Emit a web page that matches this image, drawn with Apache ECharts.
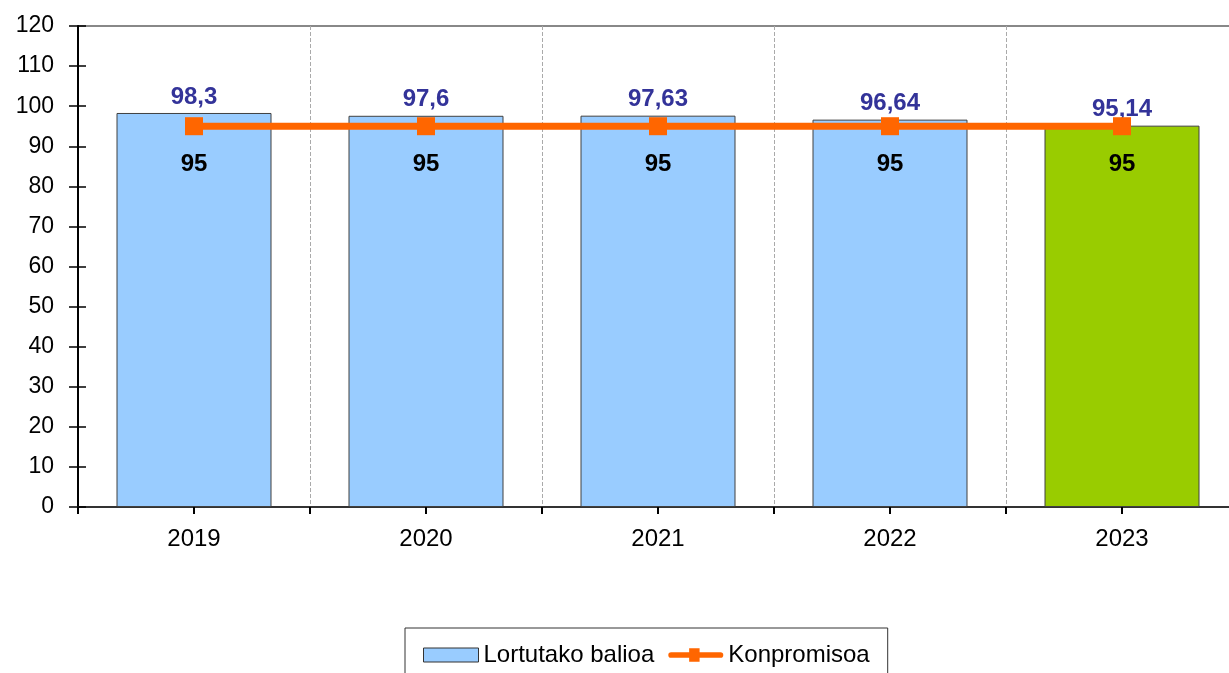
<!DOCTYPE html>
<html>
<head>
<meta charset="utf-8">
<script src="https://cdn.jsdelivr.net/npm/echarts@6/dist/echarts.min.js"></script>
<style>
  html, body { margin: 0; padding: 0; background: #fff; }
  #chart { width: 1229px; height: 673px; }
</style>
</head>
<body>
<div id="chart"></div>
<script>
const years = ['2019', '2020', '2021', '2022', '2023']
const achieved = [98.3, 97.6, 97.63, 96.64, 95.14]
const commitment = [95, 95, 95, 95, 95]
const yTicks = [0, 10, 20, 30, 40, 50, 60, 70, 80, 90, 100, 110, 120]

const font = 'Liberation Sans, Arial, sans-serif'
const comma = v => String(v).replace('.', ',')

const myChart = echarts.init(document.getElementById('chart'))
let option = {
  animation: false,
  textStyle: { fontFamily: font },
  grid: { left: 78, width: 1160, top: 26, height: 481, outerBoundsMode: 'none', containLabel: false },
  legend: {
    top: 628,
    left: 405,
    padding: [15, 18, 30, 18],
    borderColor: '#333',
    borderWidth: 1,
    itemGap: 14,
    textStyle: { fontSize: 24, color: '#000', fontFamily: font },
    data: [
      { name: 'Lortutako balioa', icon: 'rect', itemStyle: { color: '#99ccff', borderColor: '#333', borderWidth: 1 } },
      {
        name: 'Konpromisoa',
        icon: 'path://M3,4 L55,4 A3,3 0 0 1 55,10 L3,10 A3,3 0 0 1 3,4 Z M22,0 L33,0 L33,14 L22,14 Z',
        itemStyle: { color: '#ff6600', borderWidth: 0 }
      }
    ],
    itemWidth: 55,
    itemHeight: 14
  },
  xAxis: [
    {
      type: 'category',
      data: years,
      axisLine: { lineStyle: { color: '#333', width: 2 } },
      axisTick: { show: true, length: 7, lineStyle: { color: '#000', width: 2 } },
      axisLabel: { fontSize: 24, color: '#000', margin: 20 },
      splitLine: { show: true, lineStyle: { color: '#aaa', type: 'dashed', width: 1 } }
    },
    {
      type: 'category',
      data: years,
      position: 'bottom',
      axisLine: { show: false },
      axisTick: { show: true, alignWithLabel: true, length: 7, lineStyle: { color: '#000', width: 2 } },
      axisLabel: { show: false },
      splitLine: { show: false }
    }
  ],
  yAxis: [
    {
      type: 'value',
      min: yTicks[0],
      max: yTicks[yTicks.length - 1],
      interval: 10,
      axisLine: { show: true, lineStyle: { color: '#000', width: 2 } },
      axisTick: { show: true, length: 9, lineStyle: { color: '#000', width: 1.5 } },
      axisLabel: { fontSize: 23, color: '#000', margin: 24 },
      splitLine: { show: false }
    },
    {
      type: 'value',
      position: 'left',
      min: yTicks[0],
      max: yTicks[yTicks.length - 1],
      interval: 10,
      axisLine: { show: false },
      axisTick: { show: true, inside: true, length: 8, lineStyle: { color: '#000', width: 1.5 } },
      axisLabel: { show: false },
      splitLine: { show: false }
    }
  ],
  series: [
    {
      name: 'Lortutako balioa',
      type: 'bar',
      barWidth: 155,
      data: achieved.map((v, i) => ({
        value: v,
        itemStyle: { color: i === achieved.length - 1 ? '#99cc00' : '#99ccff' }
      })),
      itemStyle: { borderColor: '#404040', borderWidth: 1 },
      label: {
        show: true,
        position: 'top',
        distance: 4,
        fontSize: 24,
        fontWeight: 'bold',
        color: '#333399',
        formatter: p => comma(p.value)
      },
      z: 2
    },
    {
      name: 'Konpromisoa',
      type: 'line',
      data: commitment,
      symbol: 'rect',
      symbolSize: 18,
      itemStyle: { color: '#ff6600' },
      lineStyle: { color: '#ff6600', width: 7 },
      label: {
        show: true,
        position: 'bottom',
        distance: 17,
        fontSize: 24,
        fontWeight: 'bold',
        color: '#000',
        formatter: p => comma(p.value)
      },
      z: 3
    }
  ],
  graphic: [
    {
      type: 'line',
      shape: { x1: 78, y1: 26, x2: 1229, y2: 26 },
      style: { stroke: '#888', lineWidth: 2 }
    }
  ]
}
option && myChart.setOption(option)
</script>
</body>
</html>
